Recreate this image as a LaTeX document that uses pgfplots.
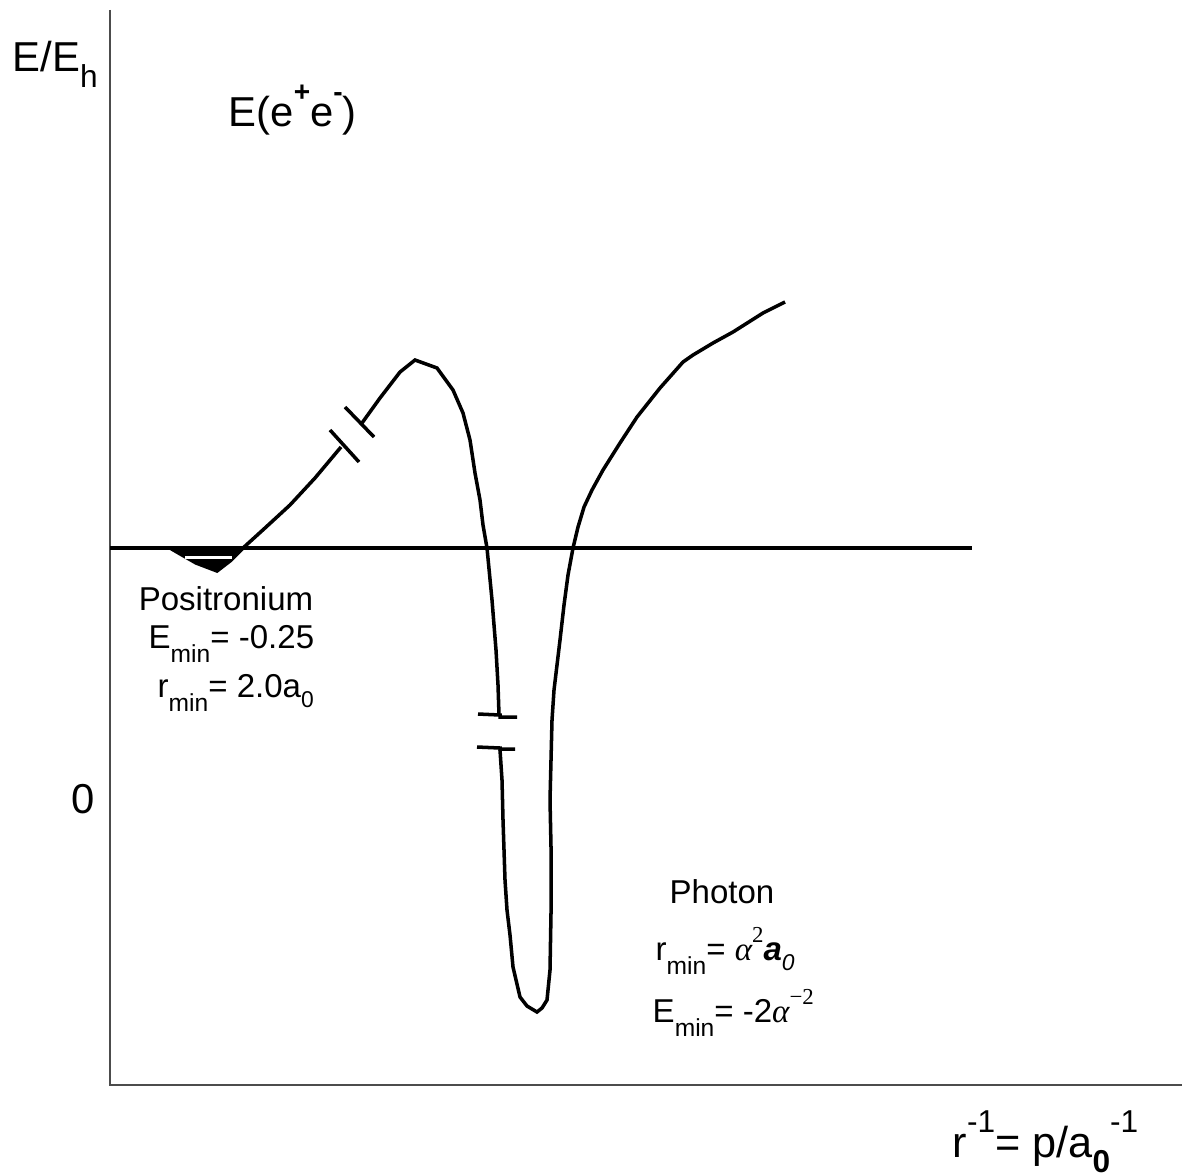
\documentclass[border=0pt]{standalone}
\usepackage{pgfplots}
\pgfplotsset{compat=1.18}
\usepackage{fontspec}
\setmainfont{Liberation Sans}
\newfontfamily\symfont{Liberation Serif}

% shifted small text for sub- and superscripts: {shift}{size}{text}
\newcommand{\shft}[3]{\raisebox{#1}{\fontsize{#2}{#2}\selectfont #3}}

\begin{document}
\begin{tikzpicture}
\begin{axis}[
  scale only axis,
  width=11.82cm, height=11.75cm,
  xmin=0, xmax=1182, ymin=0, ymax=1175,
  y dir=reverse,
  axis lines=none,
  clip=false,
]
% frame: energy axis and r^{-1} axis
\addplot[black!70, line width=0.6pt] coordinates {(110,10) (110,1085) (1182,1085)};

% zero-energy reference line
\addplot[black, line width=1.3pt] coordinates {(110,548) (972,548)};

% positronium well (filled) with its level
\addplot[fill=black, draw=black, line width=1pt] coordinates {
  (170,548) (182,555) (196,563) (217,571) (230,561) (243,548)};
\addplot[white, line width=0.6pt] coordinates {(185,557.5) (232,557.5)};

% rising branch up to the first break
\addplot[black, line width=1pt] coordinates {
  (243,548) (265,528) (290,505) (315,478) (341,447)};
% barrier and inner wall down to the second break
\addplot[black, line width=1pt] coordinates {
  (362,423) (380,398) (400,372) (415,360) (437,368) (453,390) (463,413)
  (470,440) (475,473) (480,500) (483,525) (487,548) (492,600) (496,650)
  (498,685) (499,715)};
% photon well and outer branch
\addplot[black, line width=1pt] coordinates {
  (500,750) (502,780) (503,820) (505,880) (507,910) (510,935) (513,967)
  (520,997) (527,1006) (537,1012) (542,1008) (547,1000) (550,970) (551,913)
  (551,847) (550,800) (551,760) (552,720) (554,690) (557,665) (560,640)
  (564,605) (568,575) (573,548) (578,527) (584,507) (592,490) (603,470)
  (620,443) (637,417) (660,388) (683,362) (693,355) (713,343) (733,332)
  (763,313) (785,302)};

% break marks
\addplot[black, line width=1pt] coordinates {(330,430) (359,462)};
\addplot[black, line width=1pt] coordinates {(345,407) (374,437)};
\addplot[black, line width=1pt] coordinates {(478,714) (500,715) (500,717) (517,717)};
\addplot[black, line width=1pt] coordinates {(477,747) (500,748) (500,749) (515,749)};

% labels
\node[anchor=base west, inner sep=0pt, font=\fontsize{11.9pt}{12pt}\selectfont]
  at (axis cs:12,72) {E/E\shft{-4.5pt}{9pt}{h}};
\node[anchor=base west, inner sep=0pt, font=\fontsize{11.9pt}{12pt}\selectfont]
  at (axis cs:228,126) {E(e\shft{7pt}{8pt}{\textbf{+}}e\shft{7pt}{8pt}{\textbf{-}})};
\node[anchor=base, inner sep=0pt, font=\fontsize{11.9pt}{12pt}\selectfont]
  at (axis cs:83,813) {0};
\node[anchor=base west, inner sep=0pt, font=\fontsize{12.3pt}{13pt}\selectfont]
  at (axis cs:952,1157) {r\shft{7pt}{9pt}{-1}= p/a\shft{-4.5pt}{9pt}{\textbf{0}}\shft{7pt}{9pt}{-1}};

\node[anchor=base, inner sep=0pt, font=\fontsize{9.4pt}{10pt}\selectfont]
  at (axis cs:226,610) {Positronium};
\node[anchor=base west, inner sep=0pt, font=\fontsize{9.4pt}{10pt}\selectfont]
  at (axis cs:148,648) {E\shft{-4pt}{7pt}{min}= -0.25};
\node[anchor=base west, inner sep=0pt, font=\fontsize{9.4pt}{10pt}\selectfont]
  at (axis cs:157,697) {r\shft{-4pt}{7pt}{min}= 2.0a\shft{-3pt}{6.5pt}{0}};

\node[anchor=base, inner sep=0pt, font=\fontsize{9.4pt}{10pt}\selectfont]
  at (axis cs:722,903) {Photon};
\node[anchor=base west, inner sep=0pt, font=\fontsize{9.4pt}{10pt}\selectfont]
  at (axis cs:655,960) {r\shft{-4pt}{7pt}{min}= {\symfont\itshape α}\shft{5pt}{6.5pt}{\symfont 2}\textbf{\itshape a}\shft{-3pt}{6.5pt}{\itshape 0}};
\node[anchor=base west, inner sep=0pt, font=\fontsize{9.4pt}{10pt}\selectfont]
  at (axis cs:652,1022) {E\shft{-4pt}{7pt}{min}= -2{\symfont\itshape α}\shft{5pt}{6.5pt}{\symfont −2}};
\end{axis}
\pgfresetboundingbox
\path (current axis.south west) rectangle (current axis.north east);
\end{tikzpicture}
\end{document}
